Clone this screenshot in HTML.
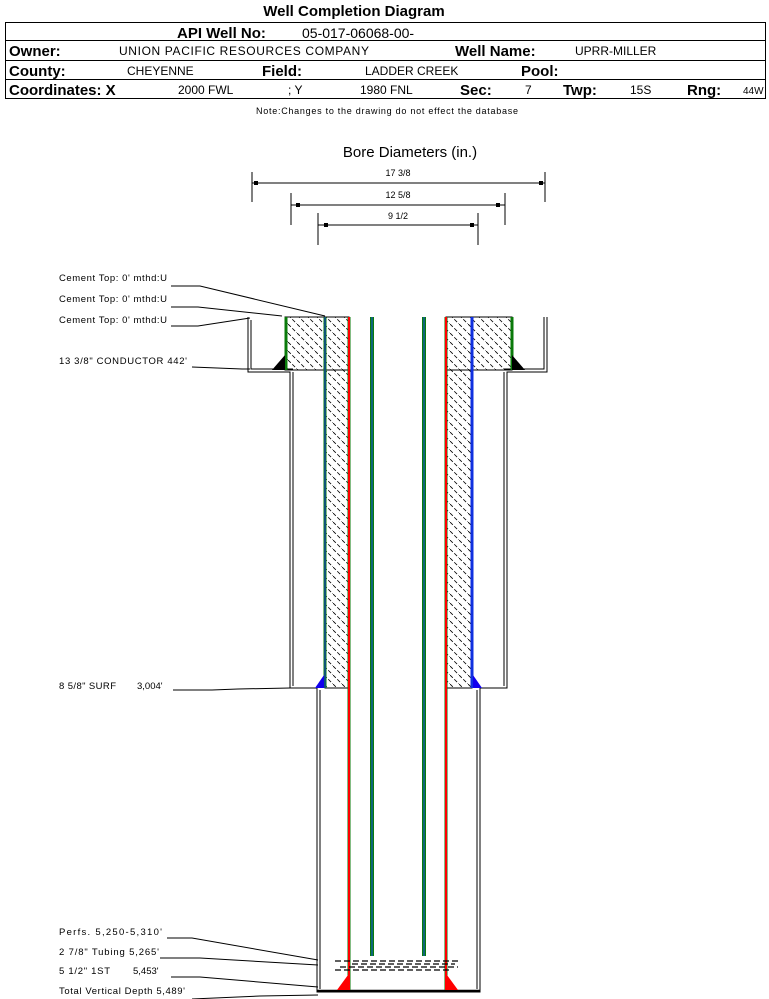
<!DOCTYPE html>
<html><head><meta charset="utf-8"><style>
html,body{margin:0;padding:0;background:#fff;}
svg{display:block;font-family:"Liberation Sans",Arial,sans-serif;}
</style></head><body>
<svg width="769" height="999" viewBox="0 0 769 999" xmlns="http://www.w3.org/2000/svg">
<defs>
<pattern id="h" width="9" height="9" patternUnits="userSpaceOnUse">
<line x1="0" y1="0" x2="9" y2="9" stroke="#000" stroke-width="0.8" stroke-dasharray="4 2"/>
</pattern>
</defs>
<text x="354" y="16" font-size="15" font-weight="bold" text-anchor="middle">Well Completion Diagram</text>
<rect x="5.5" y="22.5" width="760" height="76" fill="none" stroke="#000"/>
<line x1="5" y1="40.5" x2="766" y2="40.5" stroke="#000"/>
<line x1="5" y1="60.5" x2="766" y2="60.5" stroke="#000"/>
<line x1="5" y1="79.5" x2="766" y2="79.5" stroke="#000"/>
<g font-size="15" font-weight="bold">
<text x="177" y="38">API Well No:</text>
<text x="9" y="56">Owner:</text>
<text x="455" y="56">Well Name:</text>
<text x="9" y="76">County:</text>
<text x="262" y="76">Field:</text>
<text x="521" y="76">Pool:</text>
<text x="9" y="95">Coordinates: X</text>
<text x="460" y="95">Sec:</text>
<text x="563" y="95">Twp:</text>
<text x="687" y="95">Rng:</text>
</g>
<text x="302" y="38" font-size="14">05-017-06068-00-</text>
<g font-size="12">
<text x="119" y="55" textLength="250">UNION PACIFIC RESOURCES COMPANY</text>
<text x="575" y="55">UPRR-MILLER</text>
<text x="127" y="75">CHEYENNE</text>
<text x="365" y="75">LADDER CREEK</text>
<text x="178" y="94">2000 FWL</text>
<text x="288" y="94">; Y</text>
<text x="360" y="94">1980 FNL</text>
<text x="525" y="94">7</text>
<text x="630" y="94">15S</text>
<text x="743" y="94" font-size="10">44W</text>
</g>
<text x="256" y="114" font-size="9" textLength="262">Note:Changes to the drawing do not effect the database</text>
<text x="410" y="157" font-size="15" text-anchor="middle">Bore Diameters (in.)</text>
<g stroke="#000" stroke-width="1">
<line x1="252" y1="172" x2="252" y2="202"/><line x1="545" y1="172" x2="545" y2="202"/><line x1="252" y1="183" x2="545" y2="183"/>
<line x1="291" y1="193" x2="291" y2="225"/><line x1="505" y1="193" x2="505" y2="225"/><line x1="291" y1="205" x2="505" y2="205"/>
<line x1="318" y1="213" x2="318" y2="245"/><line x1="478" y1="213" x2="478" y2="245"/><line x1="318" y1="225" x2="478" y2="225"/>
</g>
<g fill="#000">
<rect x="254" y="181" width="4" height="4"/><rect x="539" y="181" width="4" height="4"/>
<rect x="296" y="203" width="4" height="4"/><rect x="496" y="203" width="4" height="4"/>
<rect x="324" y="223" width="4" height="4"/><rect x="470" y="223" width="4" height="4"/>
</g>
<g font-size="9" text-anchor="middle"><text x="398" y="176">17 3/8</text><text x="398" y="198">12 5/8</text><text x="398" y="219">9 1/2</text></g>
<rect x="285" y="317" width="64" height="53" fill="url(#h)" stroke="#000"/>
<rect x="325" y="370" width="24" height="318" fill="url(#h)" stroke="#000"/>
<rect x="446" y="317" width="66" height="53" fill="url(#h)" stroke="#000"/>
<rect x="446" y="370" width="26" height="318" fill="url(#h)" stroke="#000"/>
<g fill="none" stroke="#000" stroke-width="1">
<polyline points="248,317 248,372 290,372 290,688 317,688 317,992 480,992 480,688 507,688 507,372 547,372 547,317"/>
<polyline points="251,320 251,369 293,369"/>
<polyline points="504,369 544,369 544,317"/>
<line x1="293" y1="372" x2="293" y2="686"/><line x1="504" y1="372" x2="504" y2="686"/>
<line x1="320" y1="690" x2="320" y2="989"/><line x1="477" y1="690" x2="477" y2="989"/>
</g>
<line x1="317" y1="991" x2="480" y2="991" stroke="#000" stroke-width="2.5"/>
<g stroke-width="3">
<line x1="286" y1="317" x2="286" y2="370" stroke="#0a7a0a"/>
<line x1="325" y1="317" x2="325" y2="688" stroke="#0a7a0a"/>
<line x1="349" y1="317" x2="349" y2="990" stroke="#0a7a0a"/>
<line x1="349" y1="317" x2="349" y2="990" stroke="#f00" stroke-width="2"/>
<line x1="372" y1="317" x2="372" y2="956" stroke="#0a7a0a" stroke-width="4"/>
<line x1="424" y1="317" x2="424" y2="956" stroke="#0a7a0a" stroke-width="4"/>
<line x1="446" y1="317" x2="446" y2="990" stroke="#0a7a0a"/>
<line x1="446" y1="317" x2="446" y2="990" stroke="#f00" stroke-width="2"/>
<line x1="472" y1="317" x2="472" y2="688" stroke="#1030e0"/>
<line x1="512" y1="317" x2="512" y2="370" stroke="#0a7a0a"/>
</g>
<line x1="372" y1="317" x2="372" y2="956" stroke="#1060a0" stroke-width="1.5"/>
<line x1="424" y1="317" x2="424" y2="956" stroke="#1060a0" stroke-width="1.5"/>
<line x1="325" y1="317" x2="325" y2="688" stroke="#1030e0" stroke-width="1"/>
<polygon points="285,355 285,370 272,370" fill="#000"/><polygon points="512,355 512,370 525,370" fill="#000"/>
<polygon points="324,675 324,688 315,688" fill="#10e"/><polygon points="473,675 473,688 482,688" fill="#10e"/>
<polygon points="348,975 348,990 337,990" fill="#f00"/><polygon points="447,975 447,990 458,990" fill="#f00"/>
<g stroke="#000" stroke-width="1.3" stroke-dasharray="6 3">
<line x1="335" y1="961" x2="460" y2="961"/><line x1="352" y1="964" x2="455" y2="964"/>
<line x1="340" y1="967" x2="458" y2="967"/><line x1="335" y1="970" x2="450" y2="970"/>
</g>
<g fill="none" stroke="#000" stroke-width="1">
<polyline points="171,286 200,286 325,316"/>
<polyline points="171,307 198,307 282,316"/>
<polyline points="171,326 198,326 250,318"/>
<polyline points="192,367 242,369 250,369"/>
<polyline points="173,690 212,690 238,689 290,688"/>
<polyline points="167,938 192,938 318,960"/>
<polyline points="160,958 200,958 318,965"/>
<polyline points="171,977 200,977 318,987"/>
<polyline points="192,999 260,996 318,995"/>
</g>
<g font-size="9.5">
<text x="59" y="281" textLength="108">Cement Top: 0' mthd:U</text>
<text x="59" y="302" textLength="108">Cement Top: 0' mthd:U</text>
<text x="59" y="323" textLength="108">Cement Top: 0' mthd:U</text>
<text x="59" y="364" textLength="128">13 3/8" CONDUCTOR  442'</text>
<text x="59" y="689" textLength="57">8 5/8" SURF</text><text x="137" y="689">3,004'</text>
<text x="59" y="935" textLength="103">Perfs. 5,250-5,310'</text>
<text x="59" y="955" textLength="100">2 7/8" Tubing 5,265'</text>
<text x="59" y="974" textLength="51">5 1/2" 1ST</text><text x="133" y="974">5,453'</text>
<text x="59" y="994" textLength="126">Total Vertical Depth 5,489'</text>
</g>
</svg>
</body></html>
